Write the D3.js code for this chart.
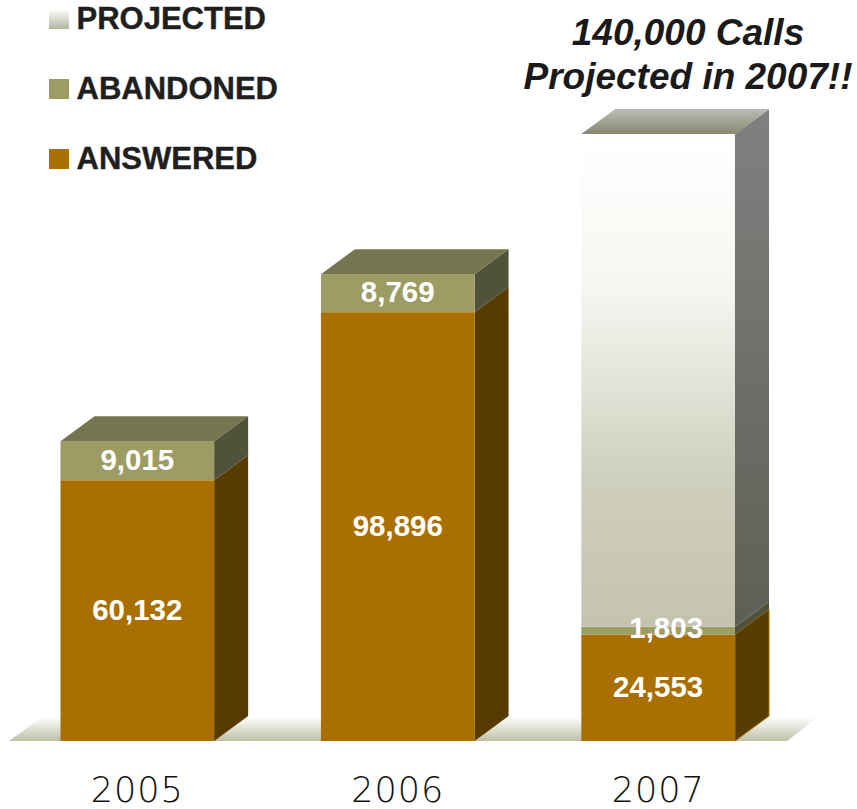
<!DOCTYPE html>
<html>
<head>
<meta charset="utf-8">
<script src="https://cdn.jsdelivr.net/npm/d3@7"></script>
<style>
  html, body { margin: 0; padding: 0; background: #fff; }
  svg { display: block; }
  text { font-family: "Liberation Sans", Arial, sans-serif; }
</style>
</head>
<body>
<div id="chart"></div>
<script>
var years = ["2005", "2006", "2007"];
var answered = [60132, 98896, 24553];
var abandoned = [9015, 8769, 1803];
var projected = [0, 0, 113644];
var seriesNames = ["ANSWERED", "ABANDONED", "PROJECTED"];
var titleLines = ["140,000 Calls", "Projected in 2007!!"];

var width = 857, height = 809;
var depthX = 34, depthY = 25;
var baseY = 741;

var svg = d3.select("#chart").append("svg").attr("width", width).attr("height", height);
var defs = svg.append("defs");

function gradient(id, stops) {
    var g = defs.append("linearGradient").attr("id", id)
        .attr("x1", 0).attr("y1", 0).attr("x2", 0).attr("y2", 1);
    stops.forEach(function(s) {
        g.append("stop").attr("offset", s[0]).attr("stop-color", s[1]);
    });
}
gradient("floorFill", [[0, "#ffffff"], [1, "#c0c0a8"]]);
gradient("projFront", [[0, "#ffffff"], [0.33, "#f5f5f0"], [0.5, "#e3e3d9"], [0.7, "#cfcfbd"], [1, "#c4c3ae"]]);
gradient("projSide", [[0, "#808080"], [1, "#5e5f54"]]);
gradient("projTop", [[0, "#bcbcb8"], [1, "#87876f"]]);
gradient("projKey", [[0, "#ffffff"], [1, "#b4b49e"]]);

var x = d3.scaleBand().domain(years).range([60.5, 735]).paddingInner(0.41).paddingOuter(0);
var y = d3.scaleLinear().domain([0, 140000]).range([baseY, 134]);

var colors = {
    ANSWERED: { front: "#a96f00", side: "#573b00", top: "#75754f" },
    ABANDONED: { front: "#9c9c64", side: "#50523a", top: "#75754f" },
    PROJECTED: { front: "url(#projFront)", side: "url(#projSide)", top: "url(#projTop)" }
};

// floor
svg.append("path")
    .attr("d", "M9," + baseY + "L42," + (baseY - 24) + "L818," + (baseY - 24) + "L787," + baseY + "Z")
    .attr("fill", "url(#floorFill)");

var rows = years.map(function(yr, i) {
    return { year: yr, ANSWERED: answered[i], ABANDONED: abandoned[i], PROJECTED: projected[i] };
});
var stacked = d3.stack().keys(seriesNames)(rows);

var bw = x.bandwidth();
stacked.forEach(function(layer) {
    var c = colors[layer.key];
    var g = svg.append("g").attr("class", "layer");
    var segs = layer.filter(function(d) { return d[1] > d[0]; });

    g.selectAll("path.side").data(segs).enter().append("path")
        .attr("class", "side")
        .attr("fill", c.side)
        .attr("stroke", function(d) {
            // the 2007 box has a thin orange edge in the original
            return layer.key == "ANSWERED" && d.data.PROJECTED > 0 ? colors.ANSWERED.front : "none";
        })
        .attr("d", function(d) {
            var r = x(d.data.year) + bw, t = y(d[1]), b = y(d[0]);
            return "M" + r + "," + b + "L" + r + "," + t + "L" + (r + depthX) + "," + (t - depthY) +
                "L" + (r + depthX) + "," + (b - depthY) + "Z";
        });

    g.selectAll("rect").data(segs).enter().append("rect")
        .attr("x", function(d) { return x(d.data.year); })
        .attr("y", function(d) { return y(d[1]); })
        .attr("width", bw)
        .attr("height", function(d) { return y(d[0]) - y(d[1]); })
        .attr("fill", c.front);
});

// top face goes only on the highest segment of each bar
rows.forEach(function(row) {
    var total = row.ANSWERED + row.ABANDONED + row.PROJECTED;
    var l = x(row.year), t = y(total);
    svg.append("path")
        .attr("d", "M" + l + "," + t + "L" + (l + depthX) + "," + (t - depthY) + "L" + (l + bw + depthX) + "," +
            (t - depthY) + "L" + (l + bw) + "," + t + "Z")
        .attr("fill", row.PROJECTED > 0 ? colors.PROJECTED.top : colors.ABANDONED.top);
});

// value labels
stacked.slice(0, 2).forEach(function(layer) {
    svg.append("g").selectAll("text").data(layer).enter().append("text")
        .attr("x", function(d) {
            var small = y(d[0]) - y(d[1]) < 20;
            return x(d.data.year) + bw / 2 + (small ? 8 : 0);
        })
        .attr("y", function(d) {
            var small = y(d[0]) - y(d[1]) < 20;
            return (y(d[0]) + y(d[1])) / 2 + 9 - (small ? 2 : 0);
        })
        .attr("text-anchor", "middle")
        .attr("font-size", 29.5)
        .attr("font-weight", "bold")
        .attr("fill", "#fff")
        .text(function(d) { return d3.format(",")(d[1] - d[0]); });
});

// year axis
var axis = svg.append("g")
    .attr("transform", "translate(0," + baseY + ")")
    .call(d3.axisBottom(x).tickSize(0).tickPadding(36));
axis.select(".domain").remove();
axis.selectAll("text")
    .attr("font-size", 35)
    .attr("font-weight", 200)
    .attr("letter-spacing", 1)
    .style("font-family", "'DejaVu Sans', sans-serif")
    .attr("fill", "#111");

// legend, top row first
var legendKeys = [
    { name: "PROJECTED", fill: "url(#projKey)" },
    { name: "ABANDONED", fill: colors.ABANDONED.front },
    { name: "ANSWERED", fill: colors.ANSWERED.front }
];
var legendY = d3.scalePoint().domain(legendKeys.map(function(d) { return d.name; })).range([29, 169]);
var legend = svg.append("g").selectAll("g").data(legendKeys).enter().append("g")
    .attr("transform", function(d) { return "translate(49," + legendY(d.name) + ")"; });
legend.append("rect")
    .attr("y", -20).attr("width", 20).attr("height", 20)
    .attr("fill", function(d) { return d.fill; });
legend.append("text")
    .attr("x", 27.5)
    .attr("font-size", 31)
    .attr("font-weight", "bold")
    .attr("fill", "#1f1f1f")
    .attr("stroke", "#1f1f1f")
    .attr("stroke-width", 0.4)
    .text(function(d) { return d.name; });

// title
svg.append("g").selectAll("text").data(titleLines).enter().append("text")
    .attr("x", 688)
    .attr("y", function(d, i) { return 45 + i * 44; })
    .attr("text-anchor", "middle")
    .attr("font-size", 37)
    .attr("font-weight", "bold")
    .attr("font-style", "italic")
    .attr("fill", "#1a1a1a")
    .text(function(d) { return d; });
</script>
</body>
</html>
